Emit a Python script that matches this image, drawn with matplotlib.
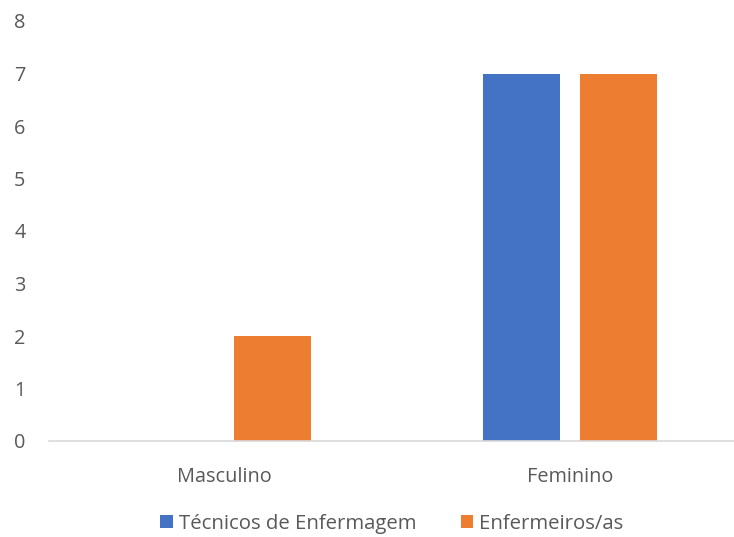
import matplotlib
matplotlib.use('Agg')
import matplotlib.pyplot as plt
import numpy as np

categories = ['Masculino', 'Feminino']
tecnicos = [0, 7]
enfermeiros = [2, 7]
series_names = ['Técnicos de Enfermagem', 'Enfermeiros/as']

plt.rcParams['font.family'] = ['Open Sans', 'DejaVu Sans']

fig = plt.figure(figsize=(7.34, 5.37), dpi=100)
ax = fig.add_axes([49/734, 96/537, 685/734, 420/537])

x = np.arange(len(categories))
w = 0.223
off = 0.141
ax.bar(x - off, tecnicos, w, color='#4472C4', label=series_names[0])
ax.bar(x + off, enfermeiros, w, color='#ED7D31', label=series_names[1])

ax.set_xlim(-0.506, 1.474)
ax.set_ylim(0, 8)
ax.set_yticks(range(0, 9))
ax.set_xticks(x)
ax.set_xticklabels(categories)
for s in ['top', 'right', 'left']:
    ax.spines[s].set_visible(False)
ax.spines['bottom'].set_color('#D9D9D9')
ax.spines['bottom'].set_linewidth(1.2)
ax.tick_params(axis='both', length=0, colors='#595959', labelsize=14.3)
ax.tick_params(axis='y', pad=17)
ax.tick_params(axis='x', pad=19)

leg = fig.legend(loc='center', bbox_to_anchor=(392/734, 1 - 524/537), ncol=2,
                 frameon=False, fontsize=14.7, handlelength=0.6, handleheight=0.6,
                 handletextpad=0.3, columnspacing=2.2)
for t in leg.get_texts():
    t.set_color('#595959')

fig.savefig('out.png', dpi=100)
